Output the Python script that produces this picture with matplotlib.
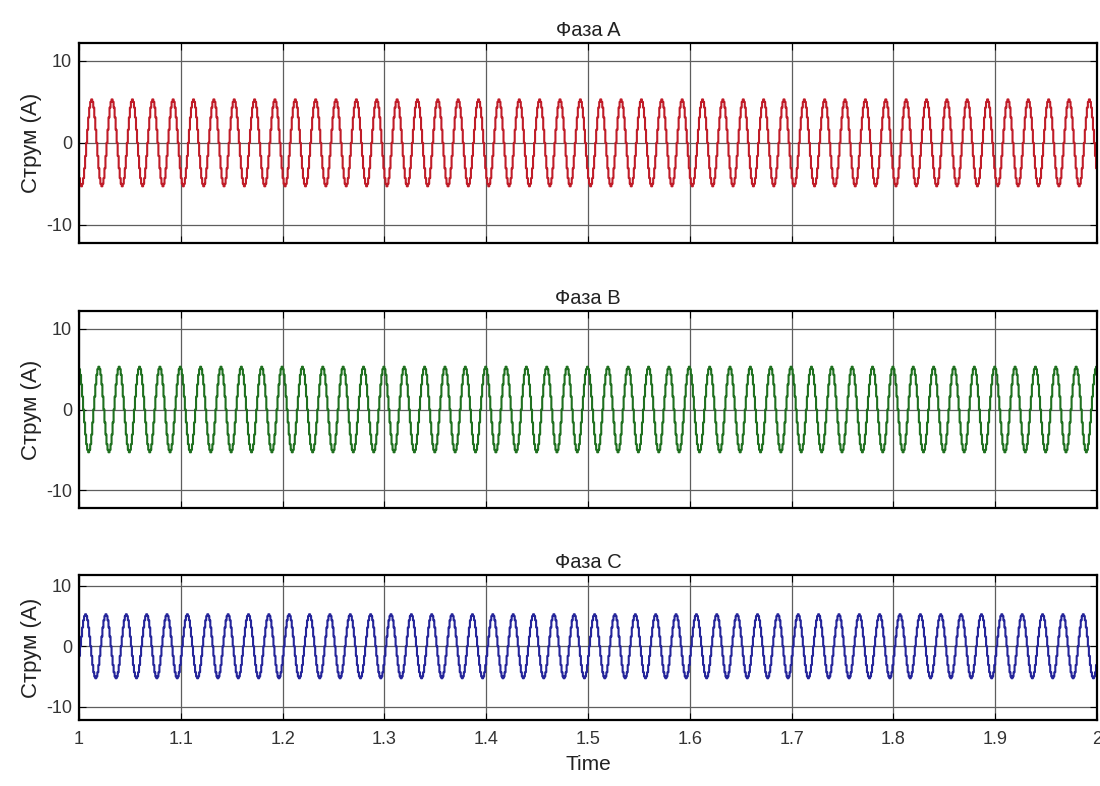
import numpy as np
import matplotlib
matplotlib.use('Agg')
import matplotlib.pyplot as plt

plt.rcParams['font.family'] = ['Liberation Sans', 'DejaVu Sans']
plt.rcParams['axes.unicode_minus'] = False

# Дані
titles = ['Фаза A', 'Фаза B', 'Фаза C']
colors = ['#c01c28', '#1f701f', '#25259a']
# один період струму, 20 відліків (крок 1 мс), починаючи з піку
one_cycle = [5.3, 5.0, 4.3, 3.1, 1.6, 0.0, -1.6, -3.1, -4.3, -5.0,
             -5.3, -5.0, -4.3, -3.1, -1.6, 0.0, 1.6, 3.1, 4.3, 5.0]
peak_index = [12, 19, 6]   # індекс піку в першому періоді для кожної фази
n_cycles = 50
t_start = 1.0
dt = 0.001
x_ticks = [1, 1.1, 1.2, 1.3, 1.4, 1.5, 1.6, 1.7, 1.8, 1.9, 2]
x_labels = ['1', '1.1', '1.2', '1.3', '1.4', '1.5', '1.6', '1.7', '1.8', '1.9', '2']
y_ticks = [-10, 0, 10]

fig = plt.figure(figsize=(11, 7.86), dpi=100)
positions = [
    [0.0718, 0.691, 0.9255, 0.2545],
    [0.0718, 0.3537, 0.9255, 0.2506],
    [0.0718, 0.084, 0.9255, 0.1845],
]

n = len(one_cycle) * n_cycles
t = t_start + np.arange(n + 1) * dt

for i in range(3):
    ax = fig.add_axes(positions[i])
    cyc = np.roll(one_cycle, peak_index[i])
    y = np.tile(cyc, n_cycles)
    y = np.append(y, y[0])
    ax.plot(t, y, color=colors[i], lw=1.5, drawstyle='steps-post')
    ax.set_xlim(1, 2)
    ax.set_ylim(-12.2, 12.2 if i < 2 else 11.8)
    ax.set_xticks(x_ticks)
    ax.set_yticks(y_ticks)
    ax.grid(True, color='#5e5e5e', lw=0.9)
    ax.set_axisbelow(True)
    ax.tick_params(direction='in', top=True, right=True, labelsize=13,
                   length=5, colors='black', labelcolor='#333333')
    ax.tick_params(axis='x', pad=8)
    ax.tick_params(axis='y', pad=5)
    for s in ax.spines.values():
        s.set_linewidth(1.6)
    ax.set_title(titles[i], fontsize=14.5, pad=5, color='#222222')
    ax.set_ylabel('Струм (A)', fontsize=16, labelpad=3, color='#222222')
    if i == 2:
        ax.set_xticklabels(x_labels)
        ax.set_xlabel('Time', fontsize=15, labelpad=5, color='#222222')
    else:
        ax.set_xticklabels([])

fig.savefig('out.png', dpi=100)
